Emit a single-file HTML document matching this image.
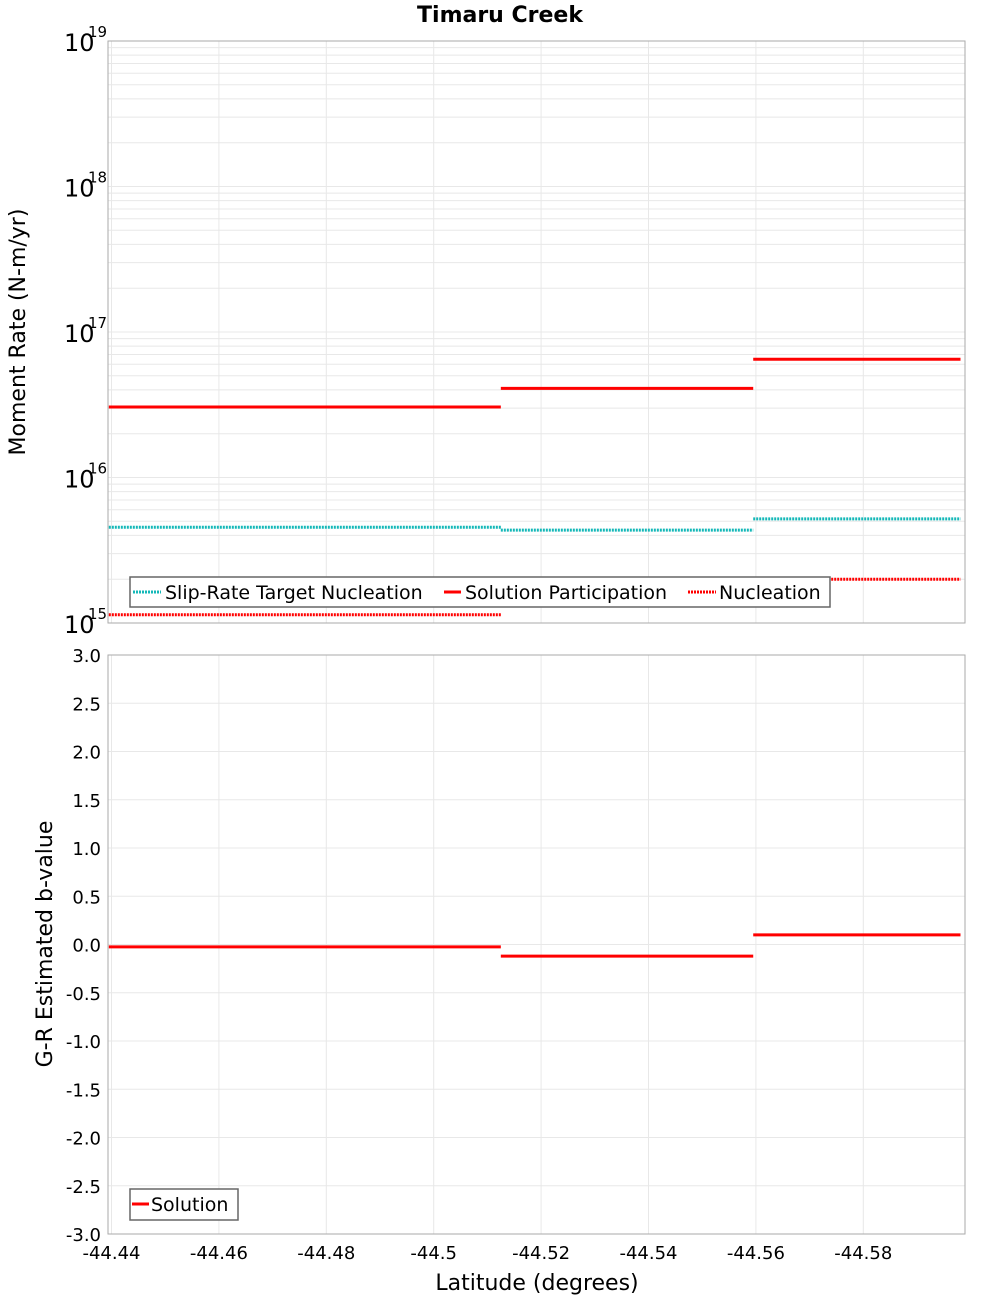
<!DOCTYPE html>
<html><head><meta charset="utf-8"><style>
body{margin:0;background:#fff;}
svg text{font-family:"DejaVu Sans","Liberation Sans",sans-serif;}
</style></head><body>
<svg id="c" width="1000" height="1300" xmlns="http://www.w3.org/2000/svg">
<text x="500" y="22" text-anchor="middle" font-size="22" font-weight="bold">Timaru Creek</text>
<g id="topPlot"></g>
<g id="botPlot"></g>
<text x="25" y="332" text-anchor="middle" font-size="22" transform="rotate(-90 25 332)">Moment Rate (N-m/yr)</text>
<text x="52" y="944" text-anchor="middle" font-size="22" transform="rotate(-90 52 944)">G-R Estimated b-value</text>
<text x="537" y="1290" text-anchor="middle" font-size="22">Latitude (degrees)</text>
</svg>
<script>
const segStart=[-44.4395,-44.5125,-44.5595];
const segEnd=[-44.5125,-44.5595,-44.5981];
const participation=[3.05e16,4.1e16,6.5e16];
const targetNucl=[4.55e15,4.35e15,5.2e15];
const nucleation=[1.14e15,1.33e15,2.0e15];
const bValues=[-0.025,-0.12,0.1];
const xTicks=[-44.44,-44.46,-44.48,-44.5,-44.52,-44.54,-44.56,-44.58];
const xTickLabels=["-44.44","-44.46","-44.48","-44.5","-44.52","-44.54","-44.56","-44.58"];
const bTicks=[3,2.5,2,1.5,1,0.5,0,-0.5,-1,-1.5,-2,-2.5,-3];
const bTickLabels=["3.0","2.5","2.0","1.5","1.0","0.5","0.0","-0.5","-1.0","-1.5","-2.0","-2.5","-3.0"];
const decades=[15,16,17,18,19];

const NS="http://www.w3.org/2000/svg";
const L=108,R=965,T1=41,B1=623,T2=655,B2=1234;
const xs=v=>111.5+(-44.44-v)/0.02*107.4;
const ys1=v=>B1-(Math.log10(v)-15)/4*(B1-T1);
const ys2=v=>T2+(3-v)/6*(B2-T2);
function mk(p,tag,a){const e=document.createElementNS(NS,tag);for(const k in a)e.setAttribute(k,a[k]);p.appendChild(e);return e;}
const gTop=document.getElementById('topPlot'),gBot=document.getElementById('botPlot');

for(let d=15;d<19;d++)for(let m=1;m<10;m++){const y=ys1(m*Math.pow(10,d));
 const g=mk(gTop,'line',{x1:L,x2:R,y1:y,y2:y,stroke:'#e8e8e8','stroke-width':1});
 
 }
xTicks.forEach((v,i)=>{const x=xs(v);
 const g=mk(gTop,'line',{x1:x,x2:x,y1:T1,y2:B1,stroke:'#e8e8e8'});
 
 
 const g2=mk(gBot,'line',{x1:x,x2:x,y1:T2,y2:B2,stroke:'#e8e8e8'});
 
 
 const t=mk(gBot,'text',{x:x,y:1259,'text-anchor':'middle','font-size':18});t.textContent=xTickLabels[i];
 
 });
bTicks.forEach((v,i)=>{const y=ys2(v);
 const g=mk(gBot,'line',{x1:L,x2:R,y1:y,y2:y,stroke:'#e8e8e8'});
 
 
 const t=mk(gBot,'text',{x:101,y:y+7,'text-anchor':'end','font-size':18});t.textContent=bTickLabels[i];
 
 });
decades.forEach(d=>{const y=ys1(Math.pow(10,d));
 const t=mk(gTop,'text',{x:64,y:y+10,'font-size':24});t.textContent='10';
 
 
 const s=mk(gTop,'text',{x:88,y:y-4,'font-size':15});s.textContent=String(d);
 
 });
mk(gTop,'rect',{x:L,y:T1,width:R-L,height:B1-T1,fill:'none',stroke:'#aaa'});
mk(gBot,'rect',{x:L,y:T2,width:R-L,height:B2-T2,fill:'none',stroke:'#aaa'});

function seg(p,vals,sc,color,dash,name,alt){vals.forEach((v,i)=>{const y=sc(v);
 const a={x1:xs(segStart[i]),x2:xs(segEnd[i]),y1:y,y2:y,stroke:(alt&&i==1)?alt:color,'stroke-width':3};
 if(dash)a['stroke-dasharray']=dash;
 const l=mk(p,'line',a);
 
 });}
seg(gTop,targetNucl,ys1,'#14b8b8','2 1','target-nucleation-segment');
seg(gTop,nucleation,ys1,'#ff0000','2 1','nucleation-segment','#ffb4b4');
seg(gTop,participation,ys1,'#ff0000',null,'participation-segment');
seg(gBot,bValues,ys2,'#ff0000',null,'b-value-segment');

const lg=mk(gTop,'g',{});


mk(lg,'rect',{x:130,y:577,width:700,height:30,fill:'#fff',stroke:'#666','stroke-width':1.5});
mk(lg,'line',{x1:133,x2:161,y1:592,y2:592,stroke:'#14b8b8','stroke-width':3,'stroke-dasharray':'2 1'});
mk(lg,'line',{x1:444,x2:461,y1:592,y2:592,stroke:'#f00','stroke-width':3});
mk(lg,'line',{x1:688,x2:716,y1:592,y2:592,stroke:'#f00','stroke-width':3,'stroke-dasharray':'2 1'});
[[165,'Slip-Rate Target Nucleation'],[465,'Solution Participation'],[719,'Nucleation']].forEach(([x,s])=>{const t=mk(lg,'text',{x:x,y:599,'font-size':19});t.textContent=s;
 
 });
const lg2=mk(gBot,'g',{});


mk(lg2,'rect',{x:130,y:1189,width:108,height:31,fill:'#fff',stroke:'#666','stroke-width':1.5});
mk(lg2,'line',{x1:132,x2:149,y1:1204,y2:1204,stroke:'#f00','stroke-width':3});
const t2=mk(lg2,'text',{x:151,y:1211,'font-size':19});t2.textContent='Solution';


</script>
</body></html>
